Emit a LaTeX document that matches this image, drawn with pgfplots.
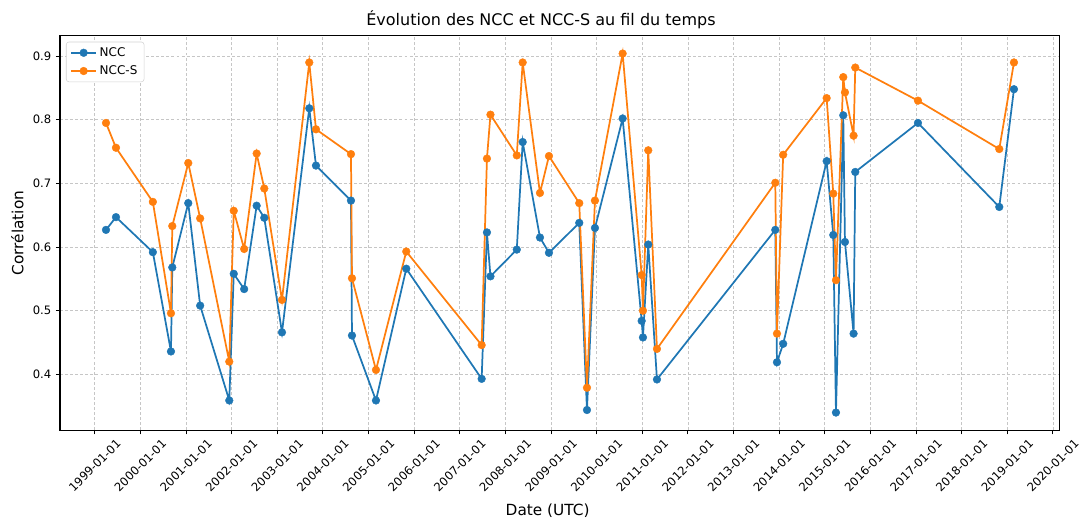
\documentclass[border=0pt]{standalone}
\usepackage{fontspec}
\setmainfont{DejaVu Sans}
\usepackage{pgfplots}
\pgfplotsset{compat=1.18}
\usepackage{pgfplotstable}

\definecolor{mplblue}{HTML}{1F77B4}
\definecolor{mplorange}{HTML}{FF7F0E}

% date (decimal year), NCC, NCC-S
\pgfplotstableread{
date     ncc   nccs
1999.248 0.627 0.795
1999.467 0.647 0.756
2000.275 0.592 0.671
2000.672 0.436 0.496
2000.701 0.568 0.633
2001.051 0.669 0.732
2001.312 0.508 0.645
2001.950 0.359 0.420
2002.048 0.558 0.657
2002.276 0.534 0.597
2002.550 0.665 0.747
2002.717 0.646 0.692
2003.105 0.466 0.517
2003.703 0.818 0.890
2003.850 0.728 0.785
2004.617 0.673 0.746
2004.639 0.461 0.551
2005.165 0.359 0.407
2005.829 0.566 0.593
2007.481 0.393 0.446
2007.597 0.623 0.739
2007.674 0.554 0.808
2008.251 0.596 0.744
2008.380 0.765 0.890
2008.759 0.615 0.685
2008.956 0.591 0.743
2009.620 0.638 0.669
2009.789 0.344 0.379
2009.964 0.630 0.673
2010.571 0.802 0.904
2010.988 0.484 0.556
2011.016 0.458 0.500
2011.132 0.604 0.752
2011.323 0.392 0.440
2013.916 0.627 0.701
2013.953 0.419 0.464
2014.089 0.448 0.745
2015.042 0.735 0.834
2015.187 0.619 0.684
2015.246 0.340 0.548
2015.406 0.807 0.867
2015.443 0.608 0.843
2015.632 0.464 0.775
2015.669 0.718 0.882
2017.043 0.795 0.830
2018.825 0.663 0.754
2019.147 0.848 0.890
}\ncctable

\newcommand{\dl}[1]{\rotatebox{45}{#1-01-01}}

\begin{document}
\begin{tikzpicture}
\begin{axis}[
    width=749.5pt, height=296pt, scale only axis,
    xmin=1998.24, xmax=2020.14,
    ymin=0.312, ymax=0.932,
    xtick={1999,2000,2001,2002,2003,2004,2005,2006,2007,2008,2009,2010,2011,2012,2013,2014,2015,2016,2017,2018,2019,2020},
    xticklabels={\dl{1999},\dl{2000},\dl{2001},\dl{2002},\dl{2003},\dl{2004},\dl{2005},\dl{2006},\dl{2007},\dl{2008},\dl{2009},\dl{2010},\dl{2011},\dl{2012},\dl{2013},\dl{2014},\dl{2015},\dl{2016},\dl{2017},\dl{2018},\dl{2019},\dl{2020}},
    ytick={0.4,0.5,0.6,0.7,0.8,0.9},
    yticklabels={0.4,0.5,0.6,0.7,0.8,0.9},
    xtick pos=bottom, ytick pos=left,
    tick align=outside, major tick length=3pt,
    tick style={black, line width=0.6pt},
    axis line style={black, line width=0.8pt},
    ticklabel style={font=\fontsize{8.7}{10}\selectfont},
    xticklabel style={anchor=north, inner sep=1pt, yshift=-2pt},
    grid=major,
    major grid style={gray!45, dash pattern=on 2.2pt off 1.6pt, line width=0.5pt},
    title={Évolution des NCC et NCC-S au fil du temps},
    title style={font=\fontsize{12}{14}\selectfont, xshift=-14pt, yshift=-4pt},
    xlabel={Date (UTC)},
    ylabel={Corrélation},
    label style={font=\fontsize{11.5}{13}\selectfont},
    xlabel style={xshift=-9pt, yshift=-4pt},
    legend style={at={(0,1)}, anchor=north west, xshift=4.5pt, yshift=-4.5pt,
        draw=gray!35, rounded corners=2pt, font=\fontsize{9}{10}\selectfont,
        cells={anchor=west}, row sep=1.5pt},
    legend image code/.code={\draw[mark repeat=2,mark phase=2] plot coordinates {(0pt,0pt) (9.4pt,0pt) (18.8pt,0pt)};},
    every axis plot/.append style={line width=1.3pt, mark=*, mark size=2.9pt},
]
\addplot[color=mplblue, mark options={fill=mplblue, line width=0.3pt}] table[x=date, y=ncc] {\ncctable};
\addlegendentry{NCC}
\addplot[color=mplorange, mark options={fill=mplorange, line width=0.3pt}] table[x=date, y=nccs] {\ncctable};
\addlegendentry{NCC-S}
\end{axis}
\pgfresetboundingbox
\path ([xshift=-45pt,yshift=-71pt]current axis.south west) rectangle ([xshift=17.8pt,yshift=26.8pt]current axis.north east);
\end{tikzpicture}
\end{document}
